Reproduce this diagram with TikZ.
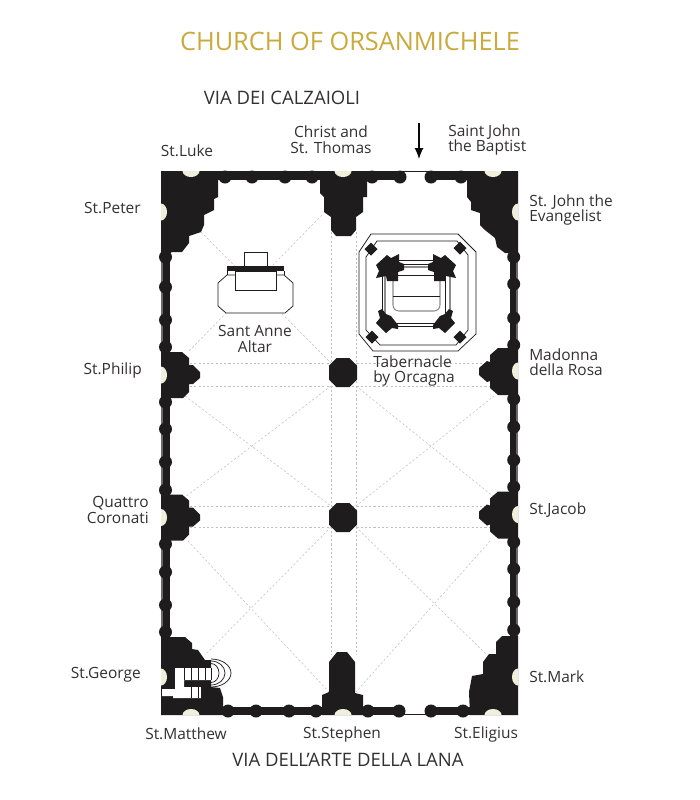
\documentclass[tikz,border=0pt]{standalone}
\usepackage{fontspec}
\setmainfont{Open Sans}
\usetikzlibrary{arrows.meta}
\definecolor{planblack}{HTML}{1F1C1D}
\definecolor{wallgray}{HTML}{6A6868}
\definecolor{plancream}{HTML}{F0EFDC}
\definecolor{plangold}{HTML}{C9AA3C}
\definecolor{plantext}{HTML}{333031}
\tikzset{
    gridline/.style={draw=black!25, line width=0.4pt, dash pattern=on 1.6pt off 1.6pt},
    solid fill/.style={fill=planblack},
    thinline/.style={draw=planblack, line width=0.55pt},
    grayline/.style={draw=black!45, line width=0.8pt},
    niche/.style={fill=plancream},
    label/.style={font=\fontsize{11.6}{11.7}\selectfont, text=plantext, inner sep=0pt},
    street/.style={font=\fontsize{13.9}{14}\selectfont, text=plantext, inner sep=0pt}
}
\begin{document}
\begin{tikzpicture}[x=0.75pt,y=-0.75pt]
    \useasboundingbox (0,0) rectangle (700,800);
    \fill[white] (0,0) rectangle (700,800);

    % grid of the vaults
    \foreach \gx in {331,356} \draw[gridline] (\gx,232) -- (\gx,655);
    \foreach \gy in {363,386,506,527} \draw[gridline] (190,\gy) -- (490,\gy);
    \draw[gridline] (201,232) -- (331,363);
    \draw[gridline] (322,215) -- (188,352);
    \draw[gridline] (185,396) -- (331,506);
    \draw[gridline] (331,386) -- (185,497);
    \draw[gridline] (356,386) -- (494,497);
    \draw[gridline] (356,506) -- (494,396);
    \draw[gridline] (188,541) -- (329,692);
    \draw[gridline] (331,527) -- (205,655);
    \draw[gridline] (356,527) -- (487,655);
    \draw[gridline] (490,541) -- (356,692);

    % walls
    \fill[solid fill] (161,171) rectangle (400,180);
    \fill[solid fill] (431,171) rectangle (518,180);
    \fill[solid fill] (161,707) rectangle (399,715);
    \fill[solid fill] (431,707) rectangle (518,715);
    \fill[solid fill] (161,171) rectangle (170,715);
    \fill[solid fill] (510,171) rectangle (518,715);
    \draw[thinline] (400,171.5) -- (431,171.5);
    \draw[thinline] (399,714.5) -- (431,714.5);
    \fill[wallgray] (161,171) rectangle (163,715);
    \fill[wallgray] (516,171) rectangle (518,715);
    \foreach \cx in {225,252,285,312,372,400,431,461} \fill[solid fill] (\cx,177) circle (6.5);
    \foreach \cx in {228,256,289,316,368,399,431,463} \fill[solid fill] (\cx,711) circle (6.5);
    \foreach \cy in {257,287,320,347,402,429,462,490,544,572,605,632} \fill[solid fill] (165.5,\cy) circle (6.5);
    \foreach \cy in {257,284,318,345,399,427,460,487,542,569,602,630} \fill[solid fill] (513.7,\cy) circle (6.5);

    % corner piers
    \fill[solid fill] (161,171) -- (218,171) -- (218,197) -- (214,199) -- (214,210) -- (204,215) -- (204,225) -- (201,232) -- (189,236) -- (189,243) -- (182,252) -- (172,252) -- (167,255) -- (161,255) -- cycle;
    \fill[solid fill] (518,171) -- (467,171) -- (467,197) -- (471,202) -- (471,210) -- (480,213) -- (480,225) -- (485,230) -- (495,238) -- (497,247) -- (505,253) -- (518,253) -- cycle;
    \fill[solid fill] (161,637) -- (185,637) -- (192,643) -- (192,649) -- (198,650) -- (205,660) -- (211,660) -- (211,687) -- (220,688) -- (223,697) -- (223,715) -- (161,715) -- cycle;
    \fill[solid fill] (518,636) -- (502,636) -- (496,642) -- (496,654) -- (489,654) -- (483,662) -- (483,674) -- (472,676) -- (469,692) -- (470,715) -- (518,715) -- cycle;

    % middle piers of the long walls
    \foreach \py in {375,517.5} {
        \begin{scope}[shift={(0,\py)}]
            \fill[solid fill] (161,-23) -- (182,-23) -- (189,-17) -- (189,-10) -- (193,-10) -- (200,-3) -- (200,3) -- (193,9) -- (189,9) -- (189,17) -- (183,23) -- (161,23) -- cycle;
            \fill[niche] (161,-8.5) arc (-90:90:6 and 8.5) -- cycle;
        \end{scope}
    }
    \foreach \py in {371,514.5} {
        \begin{scope}[shift={(0,\py)}]
            \fill[solid fill] (518,-23) -- (498,-23) -- (490,-16) -- (490,-9) -- (487,-10) -- (479,-3) -- (479,4) -- (487,11) -- (490,10) -- (490,17) -- (498,24) -- (518,24) -- cycle;
            \fill[niche] (518,-8.5) arc (270:90:6 and 8.5) -- cycle;
        \end{scope}
    }

    % piers of the short walls
    \fill[solid fill] (320,171) -- (367,171) -- (367,197) -- (363,197) -- (363,212) -- (356,217) -- (356,230) -- (351,236) -- (336,236) -- (331,230) -- (331,217) -- (324,212) -- (324,197) -- (320,193) -- cycle;
    \fill[solid fill] (322,715) -- (322,695) -- (329,692) -- (329,662) -- (337,652) -- (347,652) -- (355,662) -- (355,693) -- (363,695) -- (363,715) -- cycle;

    % niches
    \foreach \nx in {191,343,493} {
        \fill[niche] (\nx-8.5,171) arc (180:0:8.5 and 6) -- cycle;
        \fill[niche] (\nx-8.5,715) arc (180:360:8.5 and 6) -- cycle;
    }
    \foreach \ny in {212,677} {
        \fill[niche] (161,\ny-8.5) arc (-90:90:6 and 8.5) -- cycle;
        \fill[niche] (518,\ny-8.5) arc (270:90:6 and 8.5) -- cycle;
    }

    % columns
    \foreach \cy in {372.5,517.5} {
        \begin{scope}[shift={(343,\cy)}]
            \fill[solid fill] (-6.5,-14.5) -- (6.5,-14.5) -- (14,-7) -- (14,7) -- (6.5,14.5) -- (-6.5,14.5) -- (-14,7) -- (-14,-7) -- cycle;
        \end{scope}
    }

    % stairs of the corner pier
    \fill[white] (175,668) -- (211,668) -- (211,680) -- (184,680) -- (184,687) -- (201,687) -- (201,698) -- (173,698) -- (173,696) -- (162,696) -- (162,689) -- (175,689) -- cycle;
    \foreach \sx in {184,191,198,205,211} \draw[thinline] (\sx,668) -- (\sx,680);
    \foreach \sx in {191,198,201} \draw[thinline] (\sx,687) -- (\sx,698);
    \draw[thinline] (211,659) arc (-90:90:20 and 14);
    \draw[thinline] (211,661) arc (-90:90:14 and 12);
    \draw[thinline] (211,663.5) arc (-90:90:8 and 9.5);

    % Sant Anne altar
    \draw[thinline, fill=white] (227,275) -- (218,283) -- (218,306) -- (226,313) -- (285,313) -- (293,306) -- (293,283) -- (284,275) -- cycle;
    \draw[thinline, fill=white] (235,271) rectangle (276,290);
    \draw[thinline] (227,271) -- (227,275) (284,271) -- (284,275);
    \draw[thinline, fill=white] (244,252) rectangle (267,266);
    \fill[solid fill] (227,266) rectangle (284,271);

    % tabernacle
    \draw[thinline, fill=white] (371,234) -- (458,234) -- (476,252) -- (476,334) -- (458,351) -- (373,351) -- (359,334) -- (359,252) -- cycle;
    \draw[thinline] (377,241) -- (457,241) -- (468,255) -- (468,330) -- (456,345) -- (380,345) -- (366,330) -- (366,257) -- cycle;
    \foreach \dx/\dy in {371/249,460/248,372/337,460/337} \fill[solid fill] (\dx-6.5,\dy) -- (\dx,\dy-6.5) -- (\dx+6.5,\dy) -- (\dx,\dy+6.5) -- cycle;
    \draw[thinline] (390,260) -- (442,260) (390,264) -- (442,264);
    \draw[grayline] (390,267) -- (442,267);
    \draw[thinline] (393,275) -- (440,275);
    \draw[thinline] (382,275) -- (382,318) (445,275) -- (445,318);
    \draw[grayline] (385,275) -- (385,318) (450,275) -- (450,318);
    \draw[grayline] (393,275) -- (393,305) arc (180:90:6) -- (434,311) arc (90:0:6) -- (440,275);
    \draw[thinline] (393,296) -- (440,296);
    \draw[thinline] (390,323) -- (440,323) (390,326) -- (440,326);
    \fill[solid fill] (376,265) -- (387,255) -- (391,258) -- (399,254) -- (399,262) -- (404,264) -- (404,270) -- (398,272) -- (398,281) -- (387,281) -- (386,276) -- (376,278) -- (379,271) -- cycle;
    \fill[solid fill] (456,265) -- (445,255) -- (441,258) -- (433,254) -- (433,262) -- (428,264) -- (428,270) -- (434,272) -- (434,281) -- (445,281) -- (446,276) -- (456,278) -- (453,271) -- cycle;
    \fill[solid fill] (378,311) -- (382,309) -- (386,314) -- (391,316) -- (398,325) -- (398,329) -- (392,328) -- (386,333) -- (376,323) -- (380,318) -- cycle;
    \fill[solid fill] (453,311) -- (449,309) -- (445,314) -- (440,316) -- (433,325) -- (433,329) -- (439,328) -- (445,333) -- (455,323) -- (451,318) -- cycle;

    % entrance
    \coordinate (entrance) at (419,123);
    \coordinate (doorway) at (419,159);
    \draw[-{Latex[length=11*0.75pt,width=9*0.75pt]}, draw=black!70!planblack, line width=0.9pt, fill=planblack] (entrance) -- (doorway);

    % texts
    \node[font=\fontsize{19}{20}\selectfont, text=plangold, inner sep=0pt] (title) at (350,41) {CHURCH OF ORSANMICHELE};
    \node[street] (northstreet) at (282,98) {VIA DEI CALZAIOLI};
    \node[street] (southstreet) at (348,760) {VIA DELL’ARTE DELLA LANA};
    \node[label] (luke) at (187,151) {St.Luke};
    \node[label, align=center] (christ) at (331,140) {Christ and\\St. Thomas};
    \node[label, align=left, anchor=west] (baptist) at (448,140) {Saint John\\the Baptist};
    \node[label, anchor=east] (peter) at (141,208) {St.Peter};
    \node[label, align=left, anchor=west] (evangelist) at (529,210) {St. John the\\Evangelist};
    \node[label, align=center] (anne) at (255,339) {Sant Anne\\Altar};
    \node[label, align=left, anchor=west] (orcagna) at (373,371) {Tabernacle\\by Orcagna};
    \node[label, anchor=east] (philip) at (142,370) {St.Philip};
    \node[label, align=left, anchor=west] (madonna) at (529,362) {Madonna\\della Rosa};
    \node[label, align=right, anchor=east] (coronati) at (149,510) {Quattro\\Coronati};
    \node[label, anchor=west] (jacob) at (529,510) {St.Jacob};
    \node[label, anchor=east] (george) at (141,675) {St.George};
    \node[label, anchor=west] (mark) at (529,677) {St.Mark};
    \node[label] (matthew) at (186,734) {St.Matthew};
    \node[label] (stephen) at (342,734) {St.Stephen};
    \node[label] (eligius) at (486,734) {St.Eligius};
\end{tikzpicture}
\end{document}
